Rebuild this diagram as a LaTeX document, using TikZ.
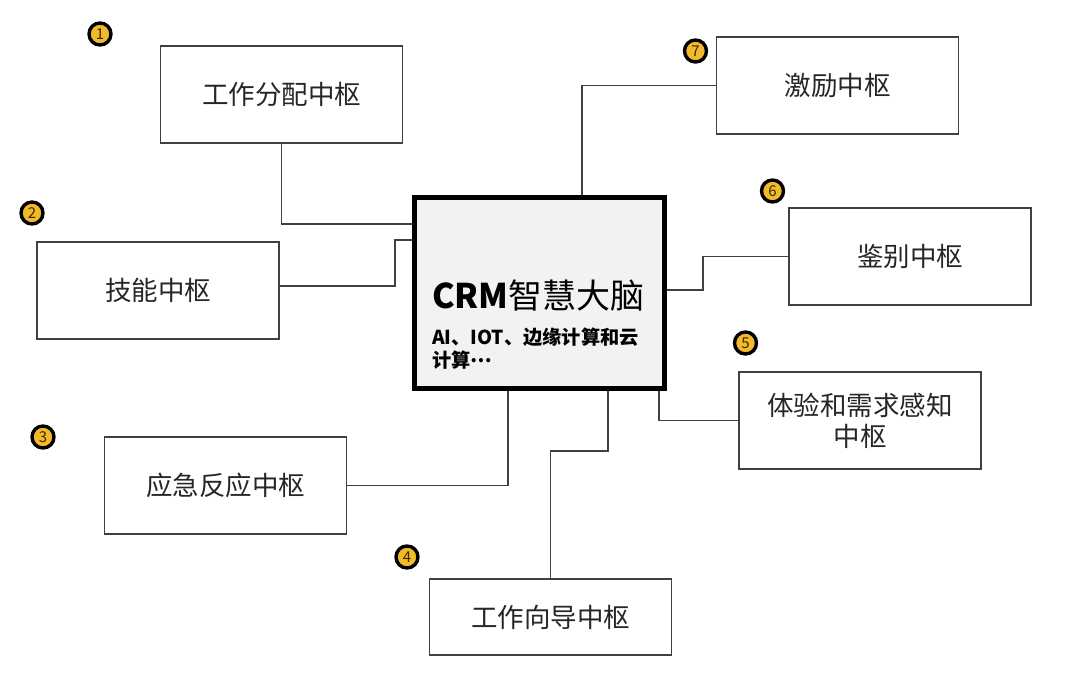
\documentclass[tikz,border=0pt]{standalone}
\usepackage{fontspec}
\setmainfont{Noto Sans CJK SC}
\definecolor{linec}{HTML}{404040}
\definecolor{gold}{HTML}{F2BA2B}
\definecolor{numc}{HTML}{3A2A00}
\definecolor{fillc}{HTML}{F2F2F2}
\definecolor{txtc}{HTML}{262626}
\begin{document}
\begin{tikzpicture}[x=1pt,y=-1pt,
  hubbox/.style={draw=linec, line width=1.3pt, minimum width=242pt, minimum height=97pt,
    inner sep=0pt, align=center, text=txtc, font=\fontsize{26.5}{31}\selectfont},
  conn/.style={draw=linec, line width=1.2pt},
  numdot/.style={circle, draw=black, line width=3.4pt, fill=gold, minimum size=22pt,
    inner sep=0pt, text=numc, font=\fontsize{15}{15}\selectfont}]
\useasboundingbox (0,0) rectangle (1071,687);

% centre box
\node[draw=black, line width=5pt, fill=fillc, minimum width=250pt, minimum height=191pt, inner sep=0pt] (c) at (539.5,293) {};
\node[anchor=west, inner sep=0pt, text=black, font=\fontsize{34}{40}\selectfont] (title) at (432,296) {\textbf{CRM}智慧大脑};
\node[anchor=north west, inner sep=0pt, text=black, align=left, font=\bfseries\fontsize{19.2}{23}\selectfont] (sub) at (432,328) {AI、IOT、边缘计算和云\\计算\raisebox{0.3em}{…}};

% hub boxes
\node[hubbox] (a1) at (281.5,94.5) {工作分配中枢};
\node[hubbox] (a2) at (158,290.5) {技能中枢};
\node[hubbox] (a3) at (225.5,485.5) {应急反应中枢};
\node[hubbox, minimum height=76pt] (a4) at (550.5,617) {工作向导中枢};
\node[hubbox] (a5) at (860,420.5) {体验和需求感知\\中枢};
\node[hubbox] (a6) at (910,256.5) {鉴别中枢};
\node[hubbox] (a7) at (837.5,85.5) {激励中枢};

% connectors
\draw[conn] (a1.south) |- (c.west |- 0,224);
\draw[conn] (a2.east |- 0,286) -| (395,240) -- (c.west |- 0,240);
\draw[conn] (a3.east) -| (c.south -| 508,0);
\draw[conn] (a4.north) |- (608,451) -- (608,451 |- c.south);
\draw[conn] (a5.west) -| (c.south -| 659,0);
\draw[conn] (a6.west) -| (703,290) -- (c.east |- 0,290);
\draw[conn] (a7.west) -| (c.north -| 582,0);

% number markers
\node[numdot] (n1) at (100,34) {1};
\node[numdot] (n2) at (32,213) {2};
\node[numdot] (n3) at (43,437) {3};
\node[numdot] (n4) at (407,557) {4};
\node[numdot] (n5) at (745.5,343) {5};
\node[numdot] (n6) at (772.5,191) {6};
\node[numdot] (n7) at (695.5,51) {7};
\end{tikzpicture}
\end{document}
